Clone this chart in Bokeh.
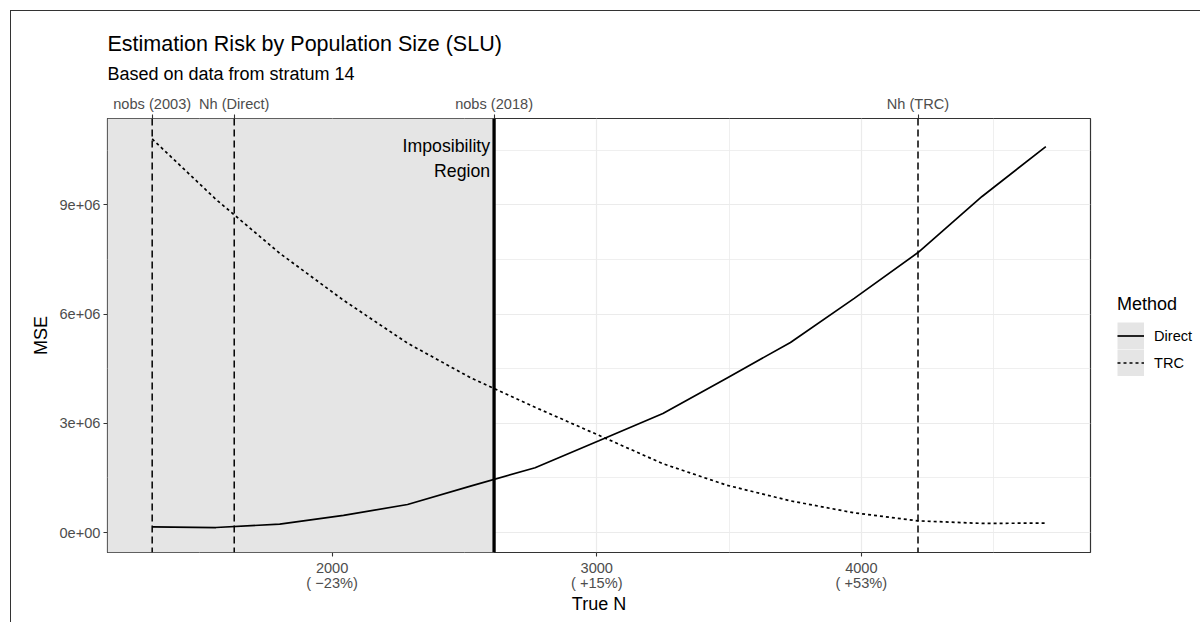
from bokeh.plotting import figure
from bokeh.models import (LinearAxis, FixedTicker, Span, Legend, LegendItem, Title, Range1d)
from bokeh.core.properties import value
from bokeh.embed import file_html
from bokeh.resources import INLINE

# ---------------- data ----------------
true_n = [1320, 1561, 1802, 2043, 2285, 2526, 2767, 3008, 3250, 3491, 3732, 3973, 4214, 4456, 4697]
mse_direct = [0.154e6, 0.137e6, 0.23e6, 0.47e6, 0.77e6, 1.28e6, 1.78e6, 2.52e6, 3.27e6,
              4.24e6, 5.22e6, 6.43e6, 7.69e6, 9.23e6, 10.60e6]
mse_trc = [10.81e6, 9.15e6, 7.67e6, 6.38e6, 5.20e6, 4.24e6, 3.44e6, 2.67e6, 1.89e6,
           1.30e6, 0.87e6, 0.54e6, 0.32e6, 0.25e6, 0.26e6]

ref_names = ["nobs (2003)", "Nh (Direct)", "nobs (2018)", "Nh (TRC)"]
ref_values = [1320, 1630, 2612, 4214]
nobs_2018 = 2612

x_ticks = [2000, 3000, 4000]
x_minor = [1500, 2500, 3500, 4500]
y_ticks = [0, 3000000, 6000000, 9000000]
y_minor = [1500000, 4500000, 7500000, 10500000]
y_tick_labels = ["0e+00", "3e+06", "6e+06", "9e+06"]
y_limits = [-549000, 11372000]

title_text = "Estimation Risk by Population Size (SLU)"
subtitle_text = "Based on data from stratum 14"
region_text = "Imposibility\nRegion"
methods = ["Direct", "TRC"]

# x limits with ggplot-like 5% expansion
span_x = max(true_n) - min(true_n)
x_limits = [min(true_n) - 0.05 * span_x, max(true_n) + 0.05 * span_x]


def pct_label(t):
    pct = round((t / nobs_2018 - 1) * 100)
    sign = "+" if pct > 0 else "\u2212"
    return f"{t}\n( {sign}{abs(pct)}%)"


FONT = "Liberation Sans"
TICK_COL = "#4d4d4d"
FRAME_COL = "#333333"
GRID_COL = "#ebebeb"
REGION_COL = "#e5e5e5"

p = figure(frame_width=983, frame_height=434,
           x_range=Range1d(*x_limits), y_range=Range1d(*y_limits),
           output_backend="svg", toolbar_location=None, title=None,
           min_border_left=96, min_border_right=109, min_border_top=107, min_border_bottom=70,
           background_fill_color="white", border_fill_color="white",
           styles={"margin-left": "10px", "margin-top": "10px",
                   "border-left": "1px solid #333333", "border-top": "1px solid #333333"})

p.outline_line_color = FRAME_COL
p.outline_line_width = 1.2

# grid
xt = FixedTicker(ticks=x_ticks, minor_ticks=x_minor)
yt = FixedTicker(ticks=y_ticks, minor_ticks=y_minor)
p.xaxis.ticker = xt
p.yaxis.ticker = yt
p.xgrid.ticker = xt
p.ygrid.ticker = yt
for g in (p.xgrid, p.ygrid):
    g.grid_line_color = GRID_COL
    g.grid_line_width = 1.2
    g.minor_grid_line_color = GRID_COL
    g.minor_grid_line_width = 0.8

# impossibility region
p.quad(left=[x_limits[0]], right=[nobs_2018], bottom=[y_limits[0]], top=[y_limits[1]],
       fill_color=REGION_COL, line_color=None)

# series
r_direct = p.line(true_n, mse_direct, line_color="black", line_width=1.7)
r_trc = p.line(true_n, mse_trc, line_color="black", line_width=1.7, line_dash="3 3")

# reference lines
for v in ref_values:
    if v == nobs_2018:
        sp = Span(location=v, dimension="height", line_color="black", line_width=3.3)
    else:
        sp = Span(location=v, dimension="height", line_color="black", line_width=1.5, line_dash="7 4")
    p.add_layout(sp)

p.text(x=[nobs_2018], y=[max(mse_trc)], text=[region_text], text_align="right",
       text_baseline="top", x_offset=-4, y_offset=-3, text_font=value(FONT),
       text_font_size="17.7px", text_line_height=1.25, text_color="black")


def style_axis(ax):
    ax.axis_line_color = None
    ax.major_tick_line_color = FRAME_COL
    ax.major_tick_line_width = 1.1
    ax.major_tick_out = 4
    ax.major_tick_in = 0
    ax.minor_tick_out = 0
    ax.minor_tick_in = 0
    ax.major_label_text_font = FONT
    ax.major_label_text_font_size = "14.6px"
    ax.major_label_text_color = TICK_COL
    ax.major_label_standoff = 3
    ax.axis_label_text_font = FONT
    ax.axis_label_text_font_size = "18px"
    ax.axis_label_text_font_style = "normal"
    ax.axis_label_text_color = "black"


xa = p.xaxis[0]
style_axis(xa)
xa.major_label_overrides = {t: pct_label(t) for t in x_ticks}
xa.major_label_text_line_height = 0.95
xa.axis_label = "True N"
xa.axis_label_standoff = 0

ya = p.yaxis[0]
style_axis(ya)
ya.major_label_overrides = {t: lab for t, lab in zip(y_ticks, y_tick_labels)}
ya.axis_label = "MSE"
ya.axis_label_standoff = 6

top_axis = LinearAxis(ticker=FixedTicker(ticks=ref_values),
                      major_label_overrides={v: nm for v, nm in zip(ref_values, ref_names)})
style_axis(top_axis)
p.add_layout(top_axis, "above")

p.add_layout(Title(text=subtitle_text, text_font=FONT, text_font_size="18px",
                   text_font_style="normal", text_color="black", align="left",
                   vertical_align="top", offset=0, standoff=13), "above")
p.add_layout(Title(text=title_text, text_font=FONT, text_font_size="21.5px",
                   text_font_style="normal", text_color="black", align="left",
                   offset=0, standoff=3), "above")

# legend (grey key background via a thick, invisible-in-plot line renderer)
nan = float("nan")
bg = p.line(x=[nan], y=[nan], line_color=REGION_COL, line_width=27)
legend = Legend(items=[LegendItem(label=methods[0], renderers=[bg, r_direct]),
                       LegendItem(label=methods[1], renderers=[bg, r_trc])],
                title="Method", location=(27, 176),
                glyph_width=27, glyph_height=27, spacing=0, padding=0, margin=0,
                label_standoff=10, label_height=27,
                label_text_font=FONT, label_text_font_size="14.6px", label_text_color="black",
                title_text_font=FONT, title_text_font_size="18px", title_text_font_style="normal",
                title_text_color="black", title_standoff=7,
                border_line_color=None, background_fill_alpha=0)
p.add_layout(legend, "right")

open("out.html", "w").write(file_html(p, INLINE))
